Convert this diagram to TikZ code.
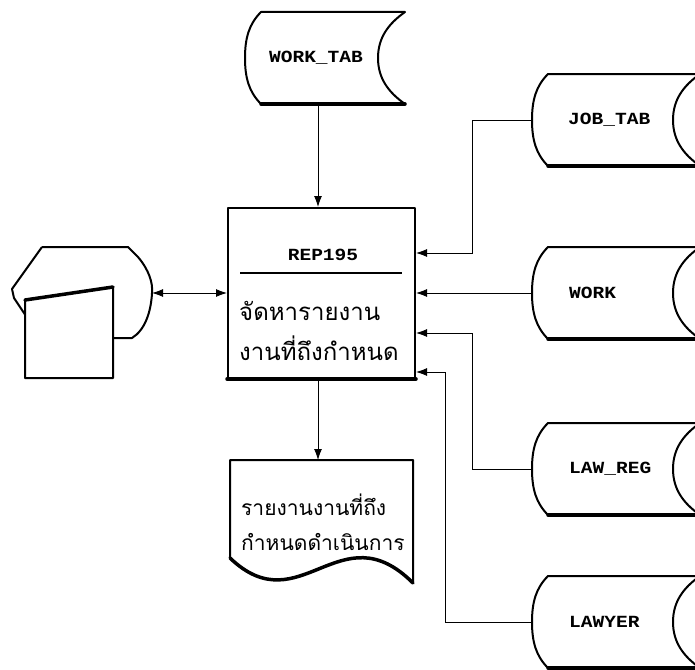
\documentclass[tikz,border=0pt]{standalone}
\usepackage{fontspec}
\newfontfamily\thaifont[Script=Thai]{Loma}
\newfontfamily\lblfont[FakeStretch=1.15]{Liberation Mono}
\usepackage{tikz}
\usetikzlibrary{arrows.meta,positioning}
% stored data symbol: #1 name, #2 left tip x, #3 centre y, #4 right end x
\newcommand{\datastore}[4]{%
  \draw[shp,fill=white] (#2+16,#3-46) -- (#4,#3-46)
    .. controls (#4-17,#3-34) and (#4-27,#3-20) .. (#4-27,#3)
    .. controls (#4-27,#3+20) and (#4-17,#3+34) .. (#4,#3+46)
    -- (#2+16,#3+46)
    .. controls (#2+4,#3+34) and (#2,#3+20) .. (#2,#3)
    .. controls (#2,#3-20) and (#2+4,#3-34) .. cycle;
  \draw[base] (#2+16,#3+46) -- (#4,#3+46);
  \coordinate (#1-in) at (#2,#3);}

\begin{document}
\begin{tikzpicture}[x=1pt,y=-1pt]
    \tikzset{shp/.style={line width=2pt,line join=round}}
    \tikzset{base/.style={line width=3.5pt,line cap=round}}
    \tikzset{tip/.tip={Latex[length=11pt,width=8pt]}}
    \tikzset{flow/.style={line width=0.9pt,-tip}}
    \tikzset{lbl/.style={font=\lblfont\bfseries\fontsize{17}{17}\selectfont,inner sep=0pt}}
    \tikzset{thai/.style={font=\thaifont\fontsize{24}{40}\selectfont,align=left,inner sep=0pt}}
    \useasboundingbox (0,0) rectangle (695,669);

    \datastore{worktab}{245}{58}{405}
    \node[lbl] (worktabl) at (316,58) {WORK\_TAB};
    \coordinate (worktab-out) at (318,104);

    \node[draw,shp,minimum width=187pt,minimum height=170pt] (rep) at (321.5,293) {};
    \draw[base] (rep.south west) -- (rep.south east);
    \node[lbl] (repid) at (323,255) {REP195};
    \draw[shp] (240,273) -- (402,273);
    \node[thai,anchor=west] (reptxt) at (239,331) {จัดหารายงาน\\งานที่ถึงกำหนด};

    \draw[shp] (42,247) -- (128,247) -- (138,257)
      .. controls (149,270) and (153,283) .. (152,293)
      .. controls (151,312) and (145,330) .. (132,338) -- (100,338)
      (42,247) -- (12,289) -- (14,298) -- (30,322);
    \coordinate (disp-out) at (152,293);
    \draw[shp,fill=white] (25,300) -- (113,287) -- (113,378) -- (25,378) -- cycle;
    \draw[base] (25,300) -- (113,287);

    \draw[shp] (230,460) -- (413,460) -- (413,583)
      .. controls (340,510) and (300,625) .. (230,558) -- cycle;
    \draw[base] (413,583) .. controls (340,510) and (300,625) .. (230,558);
    \node[thai,anchor=west,font=\thaifont\fontsize{21}{35}\selectfont] (report) at (241,522) {รายงานงานที่ถึง\\กำหนดดำเนินการ};
    \coordinate (report-in) at (318,460);

    \datastore{jobtab}{532}{120}{700}
    \node[lbl,anchor=west] (jobtabl) at (568,120) {JOB\_TAB};
    \datastore{work}{532}{293}{700}
    \node[lbl,anchor=west] (workl) at (569,293) {WORK};
    \datastore{lawreg}{532}{469}{700}
    \node[lbl,anchor=west] (lawregl) at (569,469) {LAW\_REG};
    \datastore{lawyer}{532}{622}{700}
    \node[lbl,anchor=west] (lawyerl) at (569,622) {LAWYER};

    \draw[flow] (worktab-out) -- (worktab-out |- rep.north);
    \draw[flow] (rep.south -| report-in) -- (report-in);
    \draw[flow,tip-tip] (disp-out) -- (rep.west);
    \draw[flow] (jobtab-in) -- ++(-60,0) |- ([yshift=40pt]rep.east);
    \draw[flow] (work-in) -- (rep.east);
    \draw[flow] (lawreg-in) -- ++(-60,0) |- ([yshift=-40pt]rep.east);
    \draw[flow] (lawyer-in) -- ++(-87,0) |- ([yshift=-79pt]rep.east);
\end{tikzpicture}
\end{document}
